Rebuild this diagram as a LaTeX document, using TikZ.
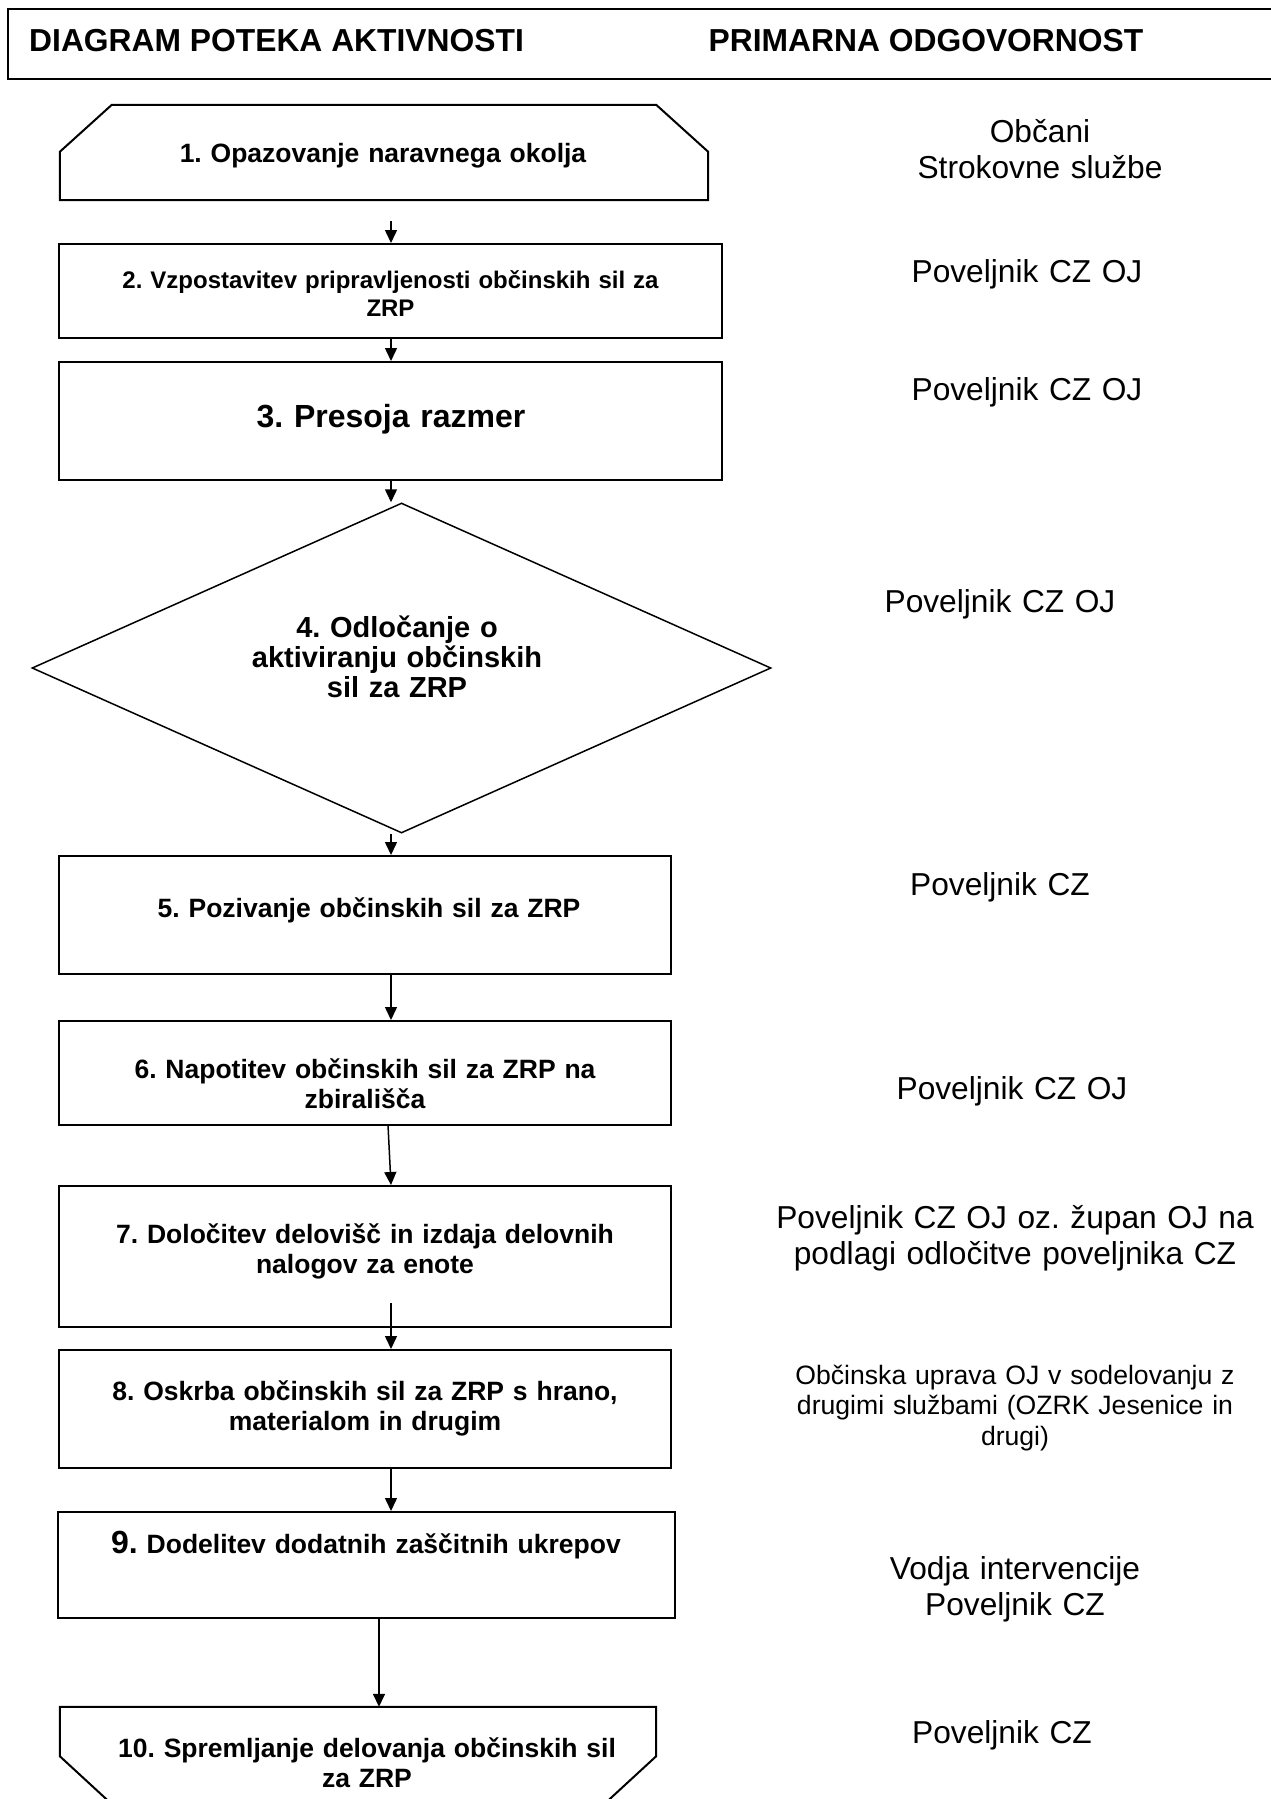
\documentclass[tikz,border=0pt]{standalone}
\usepackage{fontspec}
\setmainfont{Liberation Sans}
\usepackage{tikz}
\usetikzlibrary{arrows.meta, shapes.geometric}
\frenchspacing

\begin{document}
\begin{tikzpicture}[x=1pt, y=-1pt,
	box/.style={draw, line width=2pt, inner sep=0pt},
	blank/.style={inner sep=0pt},
	head/.style={inner sep=0pt, anchor=base, font=\bfseries\fontsize{31.8}{36}\selectfont},
	txt/.style={inner sep=0pt, anchor=base, align=center, text width=640pt, font=\bfseries\fontsize{26.5}{30.5}\selectfont},
	resp/.style={inner sep=0pt, anchor=base, align=center, text width=520pt, font=\fontsize{31.7}{36.5}\selectfont},
	arr/.style={line width=1.5pt, -{Triangle[length=13pt, width=12pt]}}]

	\useasboundingbox[fill=white] (0,0) rectangle (1270,1799);

	\draw[line width=2pt] (1280,9) -- (8,9) -- (8,79) -- (1280,79);
	\node[head, anchor=base west] (h1) at (29,51) {DIAGRAM POTEKA AKTIVNOSTI};
	\node[head] (h2) at (926,51) {PRIMARNA ODGOVORNOST};

	\node[blank, minimum width=648, minimum height=95] (b1) at (384,152.5) {};
	\draw[line width=2pt] ([xshift=52]b1.north west) -- ([xshift=-52]b1.north east) -- ([yshift=-47]b1.north east) -- (b1.south east) -- (b1.south west) -- ([yshift=-47]b1.north west) -- cycle;
	\node[box, minimum width=663, minimum height=94] (b2) at (390.5,291) {};
	\node[box, minimum width=663, minimum height=118] (b3) at (390.5,421) {};
	\node[draw, diamond, line width=1.5pt, inner sep=0pt, minimum width=739, minimum height=330] (b4) at (401.5,668) {};
	\node[box, minimum width=612, minimum height=118] (b5) at (365,915) {};
	\node[box, minimum width=612, minimum height=104] (b6) at (365,1073) {};
	\node[box, minimum width=612, minimum height=141] (b7) at (365,1256.5) {};
	\node[box, minimum width=612, minimum height=118] (b8) at (365,1409) {};
	\node[box, minimum width=617, minimum height=106] (b9) at (366.5,1565) {};
	\node[blank, minimum width=596, minimum height=96] (b10) at (358,1755) {};
	\draw[line width=2pt] (b10.north west) -- (b10.north east) -- ([yshift=47]b10.south east) -- ([xshift=-51]b10.south east) -- ([xshift=51]b10.south west) -- ([yshift=47]b10.south west) -- cycle;

	\coordinate (spine) at (391,0);
	\coordinate (spine2) at (379,0);
	\coordinate (s1) at (391,221);
	\coordinate (s6) at (388,1125);
	\coordinate (s7) at (391,1303);
	\draw[arr] (s1) -- (spine |- b2.north);
	\draw[arr] (spine |- b2.south) -- (spine |- b3.north);
	\draw[arr] (spine |- b3.south) -- (spine |- b4.north);
	\draw[arr] (spine |- b4.south) -- (spine |- b5.north);
	\draw[arr] (spine |- b5.south) -- (spine |- b6.north);
	\draw[arr] (s6) -- (spine |- b7.north);
	\draw[arr] (s7) -- (spine |- b8.north);
	\draw[arr] (spine |- b8.south) -- (spine |- b9.north);
	\draw[arr] (spine2 |- b9.south) -- (spine2 |- b10.north);

	\node[txt] (t1) at (383,162) {1. Opazovanje naravnega okolja};
	\node[txt, font=\bfseries\fontsize{24}{28}\selectfont] (t2) at (390.5,288) {2. Vzpostavitev pripravljenosti občinskih sil za\\ZRP};
	\node[txt, font=\bfseries\fontsize{32}{36}\selectfont] (t3) at (391,427) {3. Presoja razmer};
	\node[txt, text width=500pt, font=\bfseries\fontsize{29}{30}\selectfont] (t4) at (397,637) {4. Odločanje o\\aktiviranju občinskih\\sil za ZRP};
	\node[txt] (t5) at (369,917) {5. Pozivanje občinskih sil za ZRP};
	\node[txt] (t6) at (365,1078) {6. Napotitev občinskih sil za ZRP na\\zbirališča};
	\node[txt] (t7) at (365,1243) {7. Določitev delovišč in izdaja delovnih\\nalogov za enote};
	\node[txt] (t8) at (365,1400) {8. Oskrba občinskih sil za ZRP s hrano,\\materialom in drugim};
	\node[txt] (t9) at (366,1553) {{\fontsize{32}{30.5}\selectfont 9.} Dodelitev dodatnih zaščitnih ukrepov};
	\node[txt] (t10) at (367,1757) {10. Spremljanje delovanja občinskih sil\\za ZRP};

	\node[resp] (r1) at (1040,142) {Občani\\Strokovne službe};
	\node[resp] (r2) at (1027,282) {Poveljnik CZ OJ};
	\node[resp] (r3) at (1027,400) {Poveljnik CZ OJ};
	\node[resp] (r4) at (1000,612) {Poveljnik CZ OJ};
	\node[resp] (r5) at (1000,895) {Poveljnik CZ};
	\node[resp] (r6) at (1012,1099) {Poveljnik CZ OJ};
	\node[resp] (r7) at (1015,1228) {Poveljnik CZ OJ oz. župan OJ na\\podlagi odločitve poveljnika CZ};
	\node[resp, font=\fontsize{26.6}{30.5}\selectfont] (r8) at (1015,1384) {Občinska uprava OJ v sodelovanju z\\drugimi službami (OZRK Jesenice in\\drugi)};
	\node[resp] (r9) at (1015,1579) {Vodja intervencije\\Poveljnik CZ};
	\node[resp] (r10) at (1002,1743) {Poveljnik CZ};

\end{tikzpicture}
\end{document}
